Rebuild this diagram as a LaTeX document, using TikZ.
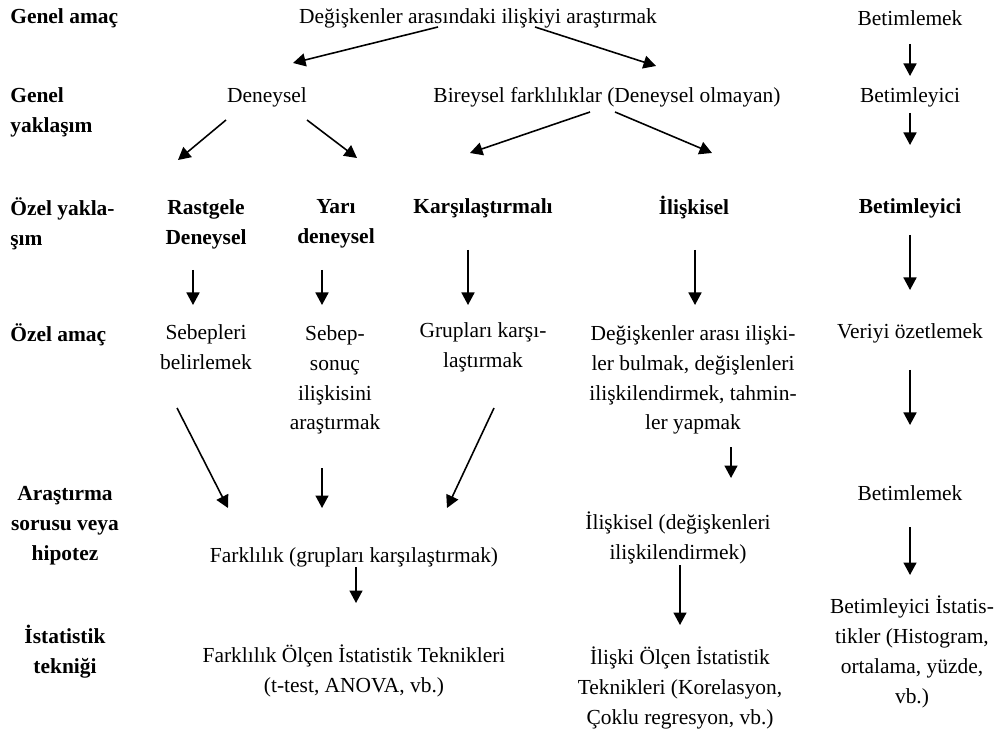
\documentclass[tikz,border=0pt]{standalone}
\usepackage{fontspec}
\setmainfont{Liberation Serif}
\usetikzlibrary{arrows.meta, calc}

\begin{document}
\begin{tikzpicture}[
    x=0.2mm, y=-0.2mm,
    >={Triangle[length=2.5mm, width=2.6mm]},
    every node/.style={inner sep=0pt, align=center, font=\fontsize{12.2}{17}\selectfont},
    rowlabel/.style={font=\fontsize{12.2}{17}\selectfont\bfseries},
    bold/.style={font=\fontsize{12.2}{17}\selectfont\bfseries},
    flow/.style={->, line width=0.9pt},
]
    \useasboundingbox (0,0) rectangle (1005,729);

    % row labels
    \node[rowlabel, anchor=west, align=left] (genamac) at (10,18)  {Genel amaç};
    \node[rowlabel, anchor=west, align=left] (genyak)  at (10,112) {Genel\\yaklaşım};
    \node[rowlabel, anchor=west, align=left] (ozyak)   at (10,224) {Özel yakla-\\şım};
    \node[rowlabel, anchor=west, align=left] (ozamac)  at (10,335) {Özel amaç};
    \node[rowlabel] (soru)   at (65,526) {Araştırma\\sorusu veya\\hipotez};
    \node[rowlabel] (teknik) at (65,652) {İstatistik\\tekniği};

    % nodes
    \node (amac)   at (478,18)  {Değişkenler arasındaki ilişkiyi araştırmak};
    \node (betA)   at (910,18)  {Betimlemek};
    \node (den)    at (267,97)  {Deneysel};
    \node (bir)    at (607,97)  {Bireysel farklılıklar (Deneysel olmayan)};
    \node (betB)   at (910,97)  {Betimleyici};
    \node[bold] (rast) at (206,224) {Rastgele\\Deneysel};
    \node[bold] (yari) at (336,224) {Yarı\\deneysel};
    \node[bold] (kars) at (483,208) {Karşılaştırmalı};
    \node[bold] (ilis) at (694,208) {İlişkisel};
    \node[bold] (betC) at (910,208) {Betimleyici};
    \node (seb)    at (206,347) {Sebepleri\\belirlemek};
    \node (sebson) at (335,380) {Sebep-\\sonuç\\ilişkisini\\araştırmak};
    \node (grup)   at (483,347) {Grupları karşı-\\laştırmak};
    \node (degis)  at (693,380) {Değişkenler arası ilişki-\\ler bulmak, değişlenleri\\ilişkilendirmek, tahmin-\\ler yapmak};
    \node (veri)   at (910,333) {Veriyi özetlemek};
    \node (betD)   at (910,493) {Betimlemek};
    \node (fark)   at (354,557) {Farklılık (grupları karşılaştırmak)};
    \node (ilisB)  at (678,538) {İlişkisel (değişkenleri\\ilişkilendirmek)};
    \node (farkol) at (354,671) {Farklılık Ölçen İstatistik Teknikleri\\(t-test, ANOVA, vb.)};
    \node (iliol)  at (680,688) {İlişki Ölçen İstatistik\\Teknikleri (Korelasyon,\\Çoklu regresyon, vb.)};
    \node (betist) at (912,652) {Betimleyici İstatis-\\tikler (Histogram,\\ortalama, yüzde,\\vb.)};

    \path[flow]
        ($(amac)+(-40,9)$)   edge ($(den)+(26,-34)$)
        ($(amac)+(57,9)$)    edge ($(bir)+(49,-31)$)
        ($(den)+(-41,23)$)   edge ($(rast)+(-28,-64)$)
        ($(den)+(40,23)$)    edge ($(yari)+(21,-66)$)
        ($(bir)+(-17,15)$)   edge ($(kars)+(-13,-55)$)
        ($(bir)+(8,15)$)     edge ($(ilis)+(18,-55)$)
        ($(betA)+(0,26)$)    edge ($(betB)+(0,-21)$)
        ($(betB)+(0,16)$)    edge ($(betC)+(0,-63)$)
        ($(rast)+(-13,46)$)  edge ($(seb)+(-13,-42)$)
        ($(yari)+(-14,46)$)  edge ($(sebson)+(-13,-75)$)
        ($(kars)+(-15,42)$)  edge ($(grup)+(-15,-42)$)
        ($(ilis)+(1,42)$)    edge ($(degis)+(2,-75)$)
        ($(betC)+(0,27)$)    edge ($(veri)+(0,-43)$)
        ($(veri)+(0,37)$)    edge ($(betD)+(0,-68)$)
        ($(seb)+(-29,61)$)   edge ($(fark)+(-126,-49)$)
        ($(sebson)+(-13,88)$) edge ($(fark)+(-32,-49)$)
        ($(grup)+(11,61)$)   edge ($(fark)+(93,-49)$)
        ($(degis)+(38,67)$)  edge ($(ilisB)+(53,-60)$)
        ($(fark)+(2,10)$)    edge ($(farkol)+(2,-68)$)
        ($(ilisB)+(2,27)$)   edge ($(iliol)+(0,-63)$)
        ($(betD)+(0,34)$)    edge ($(betist)+(-2,-77)$)
    ;
\end{tikzpicture}
\end{document}
